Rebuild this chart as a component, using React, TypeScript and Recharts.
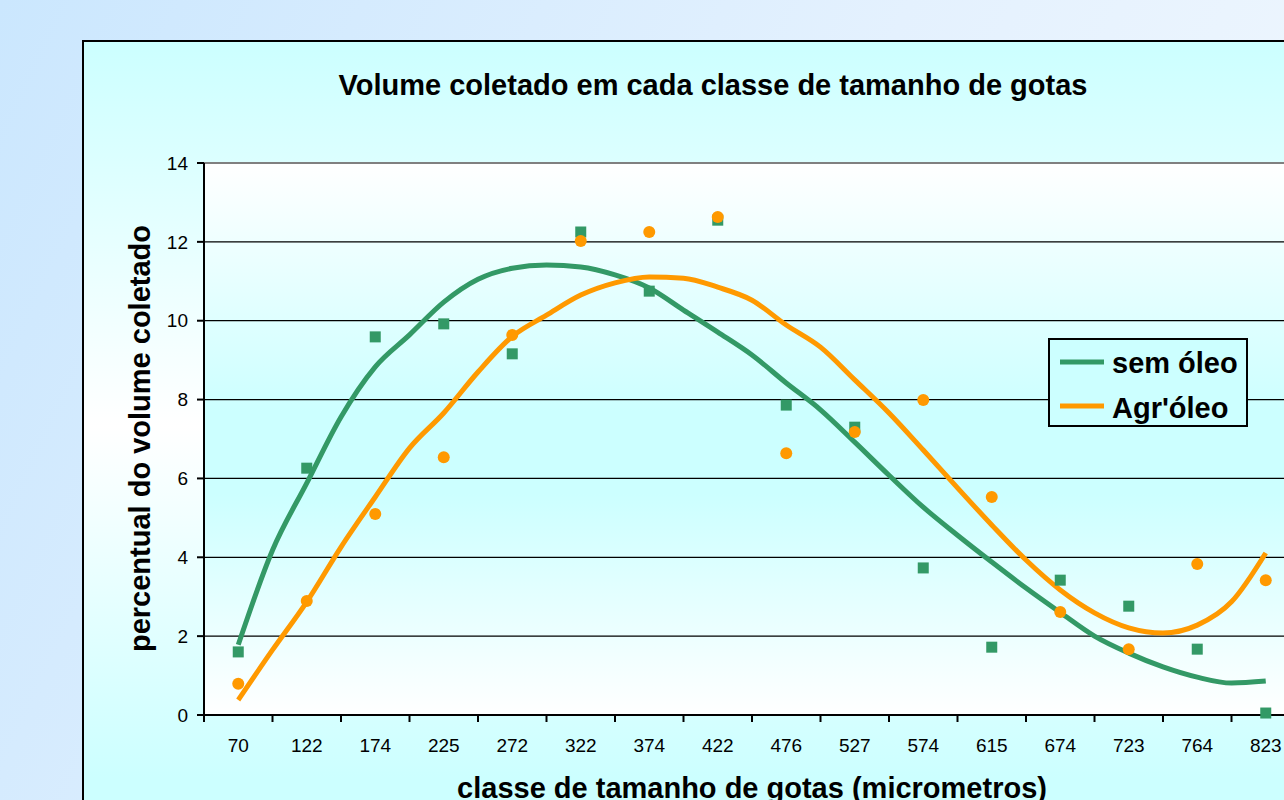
import React from 'react';
import {
  ComposedChart,
  Line,
  Scatter,
  XAxis,
  YAxis,
  CartesianGrid,
  ReferenceLine,
} from 'recharts';

// ─── Data ─────────────────────────────────────────────────────────────────────

const CLASSES = ['70', '122', '174', '225', '272', '322', '374', '422', '476', '527', '574', '615', '674', '723', '764', '823'];

// measured percentages per droplet class
const SEM_OLEO = [1.6, 6.26, 9.59, 9.92, 9.16, 12.25, 10.75, 12.55, 7.86, 7.3, 3.73, 1.72, 3.42, 2.76, 1.67, 0.05];
const AGR_OLEO = [0.79, 2.89, 5.1, 6.54, 9.64, 12.02, 12.25, 12.63, 6.64, 7.18, 7.99, 5.53, 2.61, 1.67, 3.83, 3.42];

// trend lines, every half class
const TREND_POS = [1, 1.5, 2, 2.5, 3, 3.5, 4, 4.5, 5, 5.5, 6, 6.5, 7, 7.5, 8, 8.5, 9, 9.5, 10, 10.5, 11, 11.5, 12, 12.5, 13, 13.5, 14, 14.5, 15, 15.5, 16];
const SEM_TREND = [1.78, 4.18, 5.88, 7.56, 8.83, 9.64, 10.47, 11.05, 11.33, 11.41, 11.36, 11.16, 10.83, 10.27, 9.71, 9.13, 8.42, 7.74, 6.92, 6.08, 5.27, 4.56, 3.88, 3.22, 2.6, 2.0, 1.57, 1.22, 0.96, 0.81, 0.86];
const AGR_TREND = [0.38, 1.65, 2.87, 4.26, 5.53, 6.77, 7.66, 8.7, 9.6, 10.14, 10.65, 10.96, 11.11, 11.08, 10.85, 10.52, 9.89, 9.33, 8.5, 7.66, 6.72, 5.76, 4.82, 3.93, 3.17, 2.59, 2.21, 2.08, 2.28, 2.87, 4.11];

const Y_TICKS = [0, 2, 4, 6, 8, 10, 12, 14];

// ─── Styling ──────────────────────────────────────────────────────────────────

const GREEN = '#339966';
const ORANGE = '#FF9900';
const FONT = "Arial, 'Liberation Sans', sans-serif";

const semPoints = SEM_OLEO.map((y, i) => ({ x: i + 1, y }));
const agrPoints = AGR_OLEO.map((y, i) => ({ x: i + 1, y }));
const semTrend = TREND_POS.map((x, i) => ({ x, y: SEM_TREND[i] }));
const agrTrend = TREND_POS.map((x, i) => ({ x, y: AGR_TREND[i] }));

// tick marks sit between classes, labels at class centres
const X_TICKS = CLASSES.flatMap((_, i) => [i + 0.5, i + 1]).concat(CLASSES.length + 0.5);

function XTick(props: any) {
  const { x, y, payload } = props;
  const v = payload.value;
  if (Number.isInteger(v)) {
    return (
      <text x={x} y={y + 37} textAnchor="middle" fontSize={19} fontFamily={FONT} fill="#000">
        {CLASSES[v - 1]}
      </text>
    );
  }
  return <line x1={x} x2={x} y1={y} y2={y + 7} stroke="#000" strokeWidth={2} />;
}

const Square = (p: any) => <rect x={p.cx - 5.5} y={p.cy - 5.5} width={11} height={11} fill={GREEN} />;
const Dot = (p: any) => <circle cx={p.cx} cy={p.cy} r={6} fill={ORANGE} />;

export default function App() {
  return (
    <div
      style={{
        position: 'fixed',
        left: 0,
        top: 0,
        width: 1284,
        height: 800,
        overflow: 'hidden',
        background: 'linear-gradient(115deg, #cbe7fe 0%, #e4f1fe 55%, #f2f8fe 100%)',
        fontFamily: FONT,
      }}
    >
      <svg width={0} height={0} style={{ position: 'absolute' }}>
        <defs>
          <linearGradient id="plotBg" x1="0" y1="0" x2="0" y2="1">
            <stop offset="0%" stopColor="#ffffff" />
            <stop offset="45%" stopColor="#ccffff" />
            <stop offset="60%" stopColor="#ccffff" />
            <stop offset="100%" stopColor="#ffffff" />
          </linearGradient>
        </defs>
      </svg>

      {/* chart frame */}
      <div
        style={{
          position: 'absolute',
          left: 82,
          top: 40,
          width: 1300,
          height: 800,
          border: '2px solid #000',
          background: 'linear-gradient(to bottom, #ccffff 0%, #ffffff 48%, #ccffff 92%)',
        }}
      />

      <div style={{ position: 'absolute', left: 0, top: 0 }}>
        <ComposedChart width={1400} height={800} margin={{ top: 163, right: 100, bottom: 55, left: 144 }}>
          <CartesianGrid horizontal vertical={false} stroke="#000" strokeWidth={1.3} fill="url(#plotBg)" />
          <XAxis
            type="number"
            dataKey="x"
            domain={[0.5, 16.5]}
            ticks={X_TICKS}
            interval={0}
            tick={<XTick />}
            tickLine={false}
            tickSize={0}
            tickMargin={0}
            height={30}
            axisLine={{ stroke: '#000', strokeWidth: 2 }}
            allowDataOverflow
          />
          <YAxis
            type="number"
            dataKey="y"
            domain={[0, 14]}
            ticks={Y_TICKS}
            interval={0}
            width={60}
            tickSize={7}
            tickMargin={9}
            tick={{ fill: '#000', fontSize: 19, fontFamily: FONT }}
            tickLine={{ stroke: '#000', strokeWidth: 2 }}
            axisLine={{ stroke: '#000', strokeWidth: 2 }}
          />
          <ReferenceLine y={14} stroke="#808080" strokeWidth={2} />
          <Line data={semTrend} dataKey="y" type="monotone" stroke={GREEN} strokeWidth={5} dot={false} isAnimationActive={false} />
          <Line data={agrTrend} dataKey="y" type="monotone" stroke={ORANGE} strokeWidth={5} dot={false} isAnimationActive={false} />
          <Scatter data={semPoints} dataKey="y" shape={Square} isAnimationActive={false} />
          <Scatter data={agrPoints} dataKey="y" shape={Dot} isAnimationActive={false} />
        </ComposedChart>
      </div>

      {/* titles and legend */}
      <svg width={1284} height={800} style={{ position: 'absolute', left: 0, top: 0, pointerEvents: 'none' }}>
        <text x={713} y={95} textAnchor="middle" fontSize={29} fontWeight="bold" fontFamily={FONT} fill="#000">
          Volume coletado em cada classe de tamanho de gotas
        </text>
        <text
          transform="translate(150,438.5) rotate(-90)"
          textAnchor="middle"
          fontSize={29}
          fontWeight="bold"
          fontFamily={FONT}
          fill="#000"
        >
          percentual do volume coletado
        </text>
        <text x={752} y={798} textAnchor="middle" fontSize={29} fontWeight="bold" fontFamily={FONT} fill="#000">
          classe de tamanho de gotas (micrometros)
        </text>

        <rect x={1049} y={339} width={198} height={87} fill="#ccffff" stroke="#000" strokeWidth={2} />
        <line x1={1060} x2={1104} y1={362} y2={362} stroke={GREEN} strokeWidth={5} />
        <text x={1112} y={373} fontSize={29} fontWeight="bold" fontFamily={FONT} fill="#000">
          sem óleo
        </text>
        <line x1={1060} x2={1104} y1={406} y2={406} stroke={ORANGE} strokeWidth={5} />
        <text x={1112} y={418} fontSize={29} fontWeight="bold" fontFamily={FONT} fill="#000">
          Agr'óleo
        </text>
      </svg>
    </div>
  );
}
